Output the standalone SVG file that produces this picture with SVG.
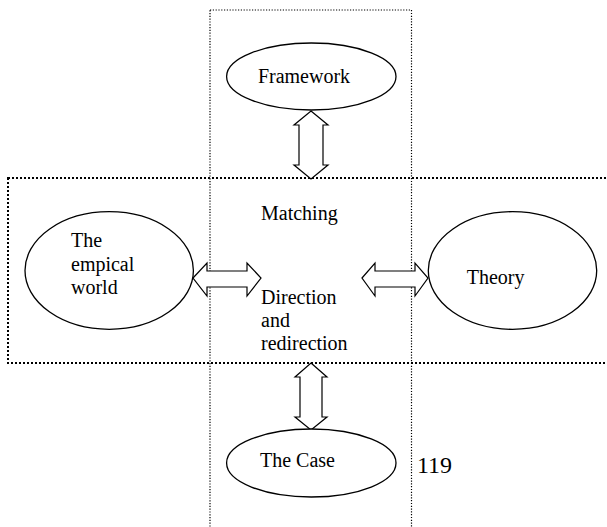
<svg xmlns="http://www.w3.org/2000/svg" width="607" height="527" viewBox="0 0 607 527">
<style>
.n{fill:#fff;stroke:#000;stroke-width:1.3}
.t{font-family:"Liberation Serif","Times New Roman",serif;font-size:20px;fill:#000}
.arr{fill:#fff;stroke:#000;stroke-width:1.2;stroke-linejoin:miter}
.vbox{fill:none;stroke:#000;stroke-width:1.2;stroke-dasharray:1.2 1.6}
.hbox{fill:none;stroke:#000;stroke-width:2;stroke-dasharray:2 2}
</style>
<rect width="607" height="527" fill="#fff"/>
<g id="regions">
<rect class="vbox" x="210" y="10" width="201.5" height="530"/>
<rect class="hbox" x="8" y="178" width="610" height="185"/>
</g>
<g id="connectors">
<path class="arr" d="M311,111 L328,125 L323,125 L323,165 L328,165 L311,179 L294,165 L299,165 L299,125 L294,125 Z"/>
<path class="arr" d="M311,363 L327,377 L322,377 L322,417 L327,417 L311,430 L295,417 L300,417 L300,377 L295,377 Z"/>
<path class="arr" d="M193,278 L207,263 L207,271 L247,271 L247,263 L261,278 L247,296 L247,287 L207,287 L207,296 Z"/>
<path class="arr" d="M362,278 L375,263 L375,271 L415,271 L415,263 L428,278 L415,296 L415,287 L375,287 L375,296 Z"/>
</g>
<g id="framework">
<ellipse class="n" cx="311.3" cy="76.5" rx="84.7" ry="33.5"/>
<text class="t" x="304" y="83" text-anchor="middle">Framework</text>
</g>
<g id="empirical">
<ellipse class="n" cx="109.2" cy="270.5" rx="84.2" ry="58.8"/>
<text class="t" x="71" y="247">The</text>
<text class="t" x="71" y="270.5">empical</text>
<text class="t" x="71" y="294">world</text>
</g>
<g id="theory">
<ellipse class="n" cx="512.5" cy="270.5" rx="84.2" ry="58.8"/>
<text class="t" x="466.7" y="283.5">Theory</text>
</g>
<g id="matching">
<text class="t" x="261" y="220">Matching</text>
<text class="t" x="261" y="304">Direction</text>
<text class="t" x="261" y="327">and</text>
<text class="t" x="261" y="350">redirection</text>
</g>
<g id="case">
<ellipse class="n" cx="311.3" cy="463" rx="84.7" ry="34"/>
<text class="t" x="260" y="467">The Case</text>
</g>
<text class="t" x="417" y="473" style="font-size:24px">119</text>
</svg>
